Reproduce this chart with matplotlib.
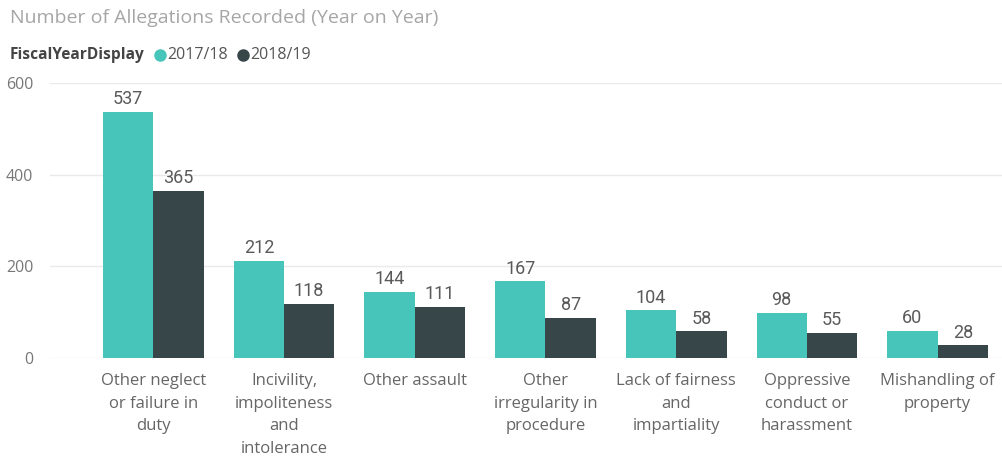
import numpy as np
import matplotlib.pyplot as plt
from matplotlib.lines import Line2D

categories = ['Other neglect\nor failure in\nduty', 'Incivility,\nimpoliteness\nand\nintolerance',
              'Other assault', 'Other\nirregularity in\nprocedure', 'Lack of fairness\nand\nimpartiality',
              'Oppressive\nconduct or\nharassment', 'Mishandling of\nproperty']
fy_2017 = [537, 212, 144, 167, 104, 98, 60]
fy_2018 = [365, 118, 111, 87, 58, 55, 28]
yticks = [0, 200, 400, 600]

teal = '#48C5BA'
dark = '#374649'

plt.rcParams['font.family'] = ['Open Sans', 'DejaVu Sans']

fig = plt.figure(figsize=(10.03, 4.63), dpi=100)
ax = fig.add_axes([50 / 1003, 105 / 463, 953 / 1003, 275 / 463])

x = np.arange(len(categories))
w = 0.385
b1 = ax.bar(x - w / 2, fy_2017, w, color=teal, zorder=2)
b2 = ax.bar(x + w / 2, fy_2018, w, color=dark, zorder=2)

for bars in (b1, b2):
    for r in bars:
        ax.text(r.get_x() + r.get_width() / 2, r.get_height() + 8, str(int(r.get_height())),
                ha='center', va='bottom', fontsize=13, color='#5A5A5A', family='Roboto')

ax.set_xlim(-0.79, 6.5)
ax.set_ylim(0, 600)
ax.set_yticks(yticks)
ax.set_yticklabels([str(t) for t in yticks], fontsize=11.5, color='#777777')
ax.set_xticks(x)
ax.set_xticklabels(categories, fontsize=12, color='#666666', va='top', linespacing=1.55)
ax.tick_params(axis='both', length=0)
ax.tick_params(axis='x', pad=11)
ax.tick_params(axis='y', pad=12)
ax.grid(axis='y', color='#EAEAEA', linewidth=1, zorder=0)
for s in ax.spines.values():
    s.set_visible(False)

ly = 1 - 55 / 463
fig.text(10 / 1003, 1 - 18 / 463, 'Number of Allegations Recorded (Year on Year)',
         fontsize=14, color='#A6A6A6', va='center', ha='left')
fig.text(10 / 1003, ly, 'FiscalYearDisplay', fontsize=11.2, color='#444444',
         fontweight='bold', va='center', ha='left')
fig.add_artist(Line2D([160 / 1003], [ly], marker='o', markersize=8, color=teal,
                      linestyle='none', transform=fig.transFigure))
fig.text(167 / 1003, ly, '2017/18', fontsize=11.5, color='#555555', va='center', ha='left')
fig.add_artist(Line2D([243 / 1003], [ly], marker='o', markersize=8, color=dark,
                      linestyle='none', transform=fig.transFigure))
fig.text(250 / 1003, ly, '2018/19', fontsize=11.5, color='#555555', va='center', ha='left')

fig.savefig('out.png', dpi=100)
